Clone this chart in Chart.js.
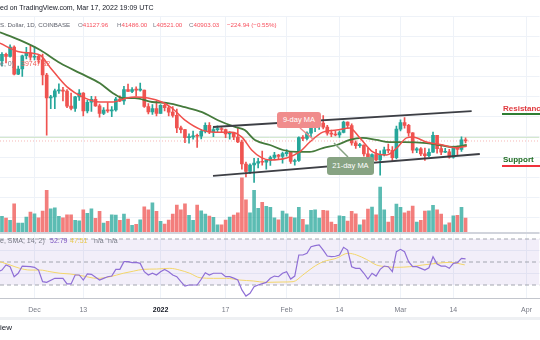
<!DOCTYPE html>
<html>
<head>
<meta charset="utf-8">
<script src="https://cdn.jsdelivr.net/npm/chart.js@4.4.1/dist/chart.umd.min.js"></script>
<style>
  html, body { margin: 0; padding: 0; background: #fff; }
  body { width: 540px; height: 340px; overflow: hidden; position: relative; font-family: "Liberation Sans", Arial, sans-serif; }
  #myChart { position: absolute; left: 0; top: 0; }
  .txt { position: absolute; white-space: nowrap; font-size: 7px; line-height: 10px; }
  .row2 { font-size: 6.2px; }
  .red { color: #f7525f; }
  .grey { color: #787b86; }
  .box { position: absolute; color: #fff; font-size: 7.5px; text-align: center; border-radius: 3px; white-space: nowrap; }
  .lvl { position: absolute; font-size: 8px; font-weight: bold; line-height: 10px; white-space: nowrap; }
  .bar { position: absolute; height: 2px; }
</style>
</head>
<body>
<canvas id="myChart" width="540" height="320"></canvas>
<svg width="540" height="340" style="position:absolute;left:0;top:0">
  <line x1="300" y1="128" x2="314" y2="140" stroke="#f08c8c" stroke-width="1.5"/>
  <line x1="334" y1="143" x2="348" y2="157" stroke="#87a383" stroke-width="1.5"/>
</svg>

<div class="txt" style="left:0;top:3px;color:#131722">ed on TradingView.com, Mar 17, 2022 19:09 UTC</div>
<div class="txt row2" style="left:0;top:20px;color:#5d606b">S. Dollar, 1D, COINBASE</div>
<div class="txt row2" style="left:78px;top:20px"><span class="grey">O</span><span class="red">41127.96</span></div>
<div class="txt row2" style="left:117px;top:20px"><span class="grey">H</span><span class="red">41486.00</span></div>
<div class="txt row2" style="left:153px;top:20px"><span class="grey">L</span><span class="red">40521.00</span></div>
<div class="txt row2" style="left:189px;top:20px"><span class="grey">C</span><span class="red">40903.03</span></div>
<div class="txt row2 red" style="left:227px;top:20px">−224.94 (−0.55%)</div>
<div class="txt grey" style="left:0;top:59px">e, 0)</div>
<div class="txt" style="left:21px;top:59px;color:#f0605a">39747.32</div>

<div class="box" style="left:277px;top:112px;width:44px;height:16px;line-height:16px;background:#f08c8c">9-day MA</div>
<div class="box" style="left:327px;top:157px;width:47px;height:18px;line-height:18px;background:#87a383">21-day MA</div>

<div class="lvl" style="left:503px;top:104px;color:#e0393e">Resistance</div>
<div class="bar" style="left:502px;top:113px;width:38px;background:#2e7d32"></div>
<div class="lvl" style="left:503px;top:155px;color:#1e6b22">Support</div>
<div class="bar" style="left:502px;top:165px;width:38px;background:#f0323c"></div>

<div class="txt grey" style="left:0;top:236px">e, SMA, 14, 2)</div>
<div class="txt" style="left:50px;top:236px;color:#7e57c2">52.79</div>
<div class="txt" style="left:70px;top:236px;color:#e8c84a">47.51</div>
<div class="txt grey" style="left:94px;top:236px">n/a</div>
<div class="txt grey" style="left:108px;top:236px">n/a</div>

<div style="position:absolute;left:0;top:317px;width:540px;height:3px;background:#eef0f3"></div>
<div class="txt" style="left:0;top:323px;font-size:8px;color:#131722">iew</div>

<script>
// x = days since Nov 22 2021, one candle per day
const viewStart = 0.52;
const viewEnd = 133.2;
const tickDays = [9, 21, 40, 56, 71, 84, 99, 112, 130];
const tickLabels = ["Dec", "13", "2022", "17", "Feb", "14", "Mar", "14", "Apr"];

const opens = [58700, 56300, 57550, 57150, 58950, 53750, 54750, 57300, 57800, 57000,
  57200, 56500, 53600, 49200, 49400, 50550, 50600, 50500, 47600, 47150,
  49400, 50100, 46700, 48350, 48900, 47650, 46200, 46850, 46700, 46900,
  48950, 48600, 50800, 50430, 50800, 50680, 50700, 47540, 46470, 47130,
  46200, 47740, 47300, 46450, 45830, 43430, 43080, 41550, 41680, 41860,
  41820, 42740, 43920, 42590, 43100, 43180, 43110, 42250, 42370, 41670,
  40700, 36470, 35070, 36280, 36660, 36960, 36810, 37160, 37720, 38170,
  37920, 38480, 38740, 36950, 37150, 41570, 41410, 42410, 43840, 44040,
  44350, 43570, 42400, 42200, 42060, 42540, 44560, 43880, 40540, 40000,
  40120, 38420, 37070, 38280, 37270, 38330, 39220, 39110, 37700, 43190,
  44420, 43920, 42460, 39140, 39400, 38420, 38060, 38740, 41980, 39440,
  38730, 38810, 37780, 39670, 39280, 41128];
const highs = [59300, 57900, 57800, 59400, 59200, 55300, 57400, 58900, 59200, 59100,
  57400, 57600, 53900, 49700, 50900, 51900, 51200, 50800, 50100, 49500,
  50800, 50200, 48700, 49500, 49450, 48000, 47350, 48300, 47500, 49300,
  49600, 51400, 51850, 51150, 51300, 52050, 50700, 48100, 47900, 48550,
  47900, 47980, 47550, 47500, 47050, 43750, 43150, 42300, 42800, 42250,
  43100, 44400, 44450, 43450, 43800, 43500, 43200, 42700, 42550, 43500,
  41100, 36850, 36500, 37550, 37550, 38950, 37250, 38000, 38700, 38350,
  38750, 39250, 38850, 37400, 41700, 41950, 42650, 44500, 45500, 44800,
  45800, 43900, 43000, 42750, 42850, 44750, 44600, 44200, 40950, 40450,
  40150, 39500, 38450, 39300, 39000, 39750, 40300, 39850, 43750, 44950,
  45400, 44100, 42500, 39650, 39650, 39550, 39400, 42600, 42000, 40250,
  39500, 39300, 39900, 39900, 41700, 41486];
const lows = [55600, 55300, 55900, 57000, 53600, 53650, 53300, 56700, 56450, 56500,
  55800, 51700, 42000, 47100, 47100, 50050, 48600, 47300, 46900, 46600,
  48700, 45700, 46300, 46600, 47550, 45500, 45950, 46400, 45600, 46650,
  48450, 47950, 50450, 50200, 49500, 50500, 47350, 46100, 46000, 45700,
  46200, 46700, 45700, 45500, 42500, 42450, 40600, 40500, 41250, 39650,
  41300, 42450, 42300, 41750, 42600, 42600, 41550, 41250, 41150, 40600,
  35500, 34000, 34600, 32950, 35700, 36250, 35500, 36200, 37300, 37400,
  36650, 38000, 36600, 36250, 36950, 40950, 41100, 41700, 42700, 43150,
  43200, 42000, 41750, 41900, 41600, 42450, 43300, 40100, 39450, 39650,
  38000, 36800, 36400, 37100, 34320, 38050, 38600, 37000, 37450, 42850,
  43350, 41850, 38600, 38650, 38100, 37150, 37900, 38700, 38550, 38250,
  38650, 37600, 37600, 38150, 38900, 40521];
const closes = [56300, 57550, 57150, 58950, 53750, 54750, 57300, 57800, 57000, 57200,
  56500, 53600, 49200, 49400, 50550, 50600, 50500, 47600, 47150, 49400,
  50100, 46700, 48350, 48900, 47650, 46200, 46850, 46700, 46900, 48950,
  48600, 50800, 50430, 50800, 50680, 50700, 47540, 46470, 47130, 46200,
  47740, 47300, 46450, 45830, 43430, 43080, 41550, 41680, 41860, 41820,
  42740, 43920, 42590, 43100, 43180, 43110, 42250, 42370, 41670, 40700,
  36470, 35070, 36280, 36660, 36960, 36810, 37160, 37720, 38170, 37920,
  38480, 38740, 36950, 37150, 41570, 41410, 42410, 43840, 44040, 44350,
  43570, 42400, 42200, 42060, 42540, 44560, 43880, 40540, 40000, 40120,
  38420, 37070, 38280, 37270, 38330, 39220, 39110, 37700, 43190, 44420,
  43920, 42460, 39140, 39400, 38420, 38060, 38740, 41980, 39440, 38730,
  38810, 37780, 39670, 39280, 41120, 40903];
const volumes = [13000, 12600, 11200, 9400, 22600, 7200, 7200, 12000, 16000, 14600,
  11400, 16800, 33400, 18600, 19400, 12600, 11400, 13800, 13800, 9400,
  9000, 17800, 15000, 18600, 11000, 16600, 7200, 8600, 13800, 13600,
  9400, 14400, 10400, 5400, 6200, 9800, 20200, 17800, 23400, 16600,
  8600, 6400, 9600, 14400, 21600, 17800, 22600, 13400, 9400, 21600,
  17000, 14400, 12800, 11800, 5800, 5800, 9600, 12000, 13600, 15400,
  43400, 25800, 15400, 33400, 19000, 23800, 20600, 19800, 11400, 9800,
  16800, 14600, 12000, 11400, 19800, 10200, 5800, 17400, 17800, 11200,
  17400, 17000, 8000, 6200, 13000, 12600, 8800, 16600, 14600, 5800,
  9800, 18400, 20000, 13800, 36000, 17800, 8000, 12600, 22400, 19800,
  15400, 16800, 20800, 8000, 9400, 16800, 17000, 21400, 17800, 14400,
  5800, 7400, 13000, 13400, 19800, 11200];

// moving averages
const ma9Days = [0.5, 5.5, 10.4, 12.8, 17, 20.9, 25.1, 28.3, 31.7, 33.7, 36.9, 40.3, 42.8, 46, 50.2, 53.3,
  57.5, 60, 62.4, 64.9, 66.9, 71, 74.2, 76.7, 79.9, 83.3, 86.5, 89, 92.2, 95.6, 98.1, 100.5, 102,
  105.4, 109.4, 112.8, 115.3];
const ma9Values = [59700, 58000, 57400, 55100, 51300, 49350, 48400, 48400, 49150, 49350, 49150, 48400, 47250, 44900, 43000, 42600,
  42600, 41650, 39170, 37640, 37250, 37640, 38800, 40700, 42600, 43000, 43400, 41500, 38800, 38200, 39550, 41500, 41650,
  40700, 40130, 39600, 39900];
const ma21Days = [0.5, 5.4, 10.4, 15.3, 20.2, 25.1, 28.3, 30.7, 33.7, 37.9, 41.8, 46, 50.2, 54.1, 58.3, 60.7,
  63.2, 66.9, 70.1, 73.5, 76.7, 79.9, 83.3, 86.5, 89.7, 93.1, 96.3, 100, 105.4, 108.6, 111.8, 115.3];
const ma21Values = [61800, 60300, 58400, 55900, 53950, 52000, 50100, 49150, 49150, 48400, 48200, 47400, 46450, 44900, 43600, 43000,
  41100, 40130, 39170, 38800, 38800, 39550, 40130, 41100, 41500, 41100, 40700, 40700, 40500, 40130, 39750, 40130];

// channel drawn on the chart
const upperDays = [52.9, 116.5];
const upperValues = [43590, 46660];
const lowerDays = [52.9, 118.5];
const lowerValues = [34180, 38400];
const priceLines = [41600, 40903];

// RSI pane
const rsiDays = [0, 1, 2, 3, 4, 5, 6, 8, 9, 10, 11, 12, 14, 16, 17, 18, 19, 20, 21, 22, 23, 25, 26, 27, 28, 29,
  30, 31, 32, 33, 34, 35, 36, 37, 38, 39, 40, 41, 42, 43, 44, 45, 46, 47, 49, 50, 51, 52, 53, 55, 56, 57, 58,
  59, 60, 61, 62, 63, 64, 66, 67, 68, 69, 70, 71, 72, 73, 74, 75, 76, 77, 78, 79, 80, 81, 82, 83, 84, 85, 86,
  87, 88, 89, 90, 91, 92, 93, 94, 95, 96, 97, 98, 99, 100, 101, 102, 103, 104, 105, 106, 107, 108, 109, 110,
  111, 112, 113, 114, 115];
const rsiValues = [41.6, 43, 47.4, 45.9, 37.2, 40.2, 46.5, 45.9, 45.4, 43, 32.9, 32.3, 35.8, 35.8, 30.9, 30.9, 38.7, 38.7, 34.3, 39.6, 39.3, 34.3, 35.8, 37.2, 37.8, 43.6,
  43.6, 50.3, 50.3, 49.4, 49.7, 48.8, 41.6, 38.7, 40.2, 38.7, 41.6, 43.6, 41.6, 38.7, 37.2, 32.9, 29.1, 30, 30, 35, 40.7, 38.7, 40.2, 40.2, 37.2, 37.2, 36,
  34.3, 25.7, 20.4, 22.8, 28.5, 30, 32.3, 35.8, 37.8, 37.2, 40.2, 41.6, 35.2, 37.8, 56.1, 56.1, 57.6, 63.3, 64.2, 64.8, 60.4, 55.2, 54.6, 55, 56.1, 62.8, 60.4,
  45.9, 44.5, 44.5, 40.2, 35.2, 40.2, 37.8, 43.6, 46.5, 45.9, 41.6, 59, 61, 59, 50.3, 45.9, 45.9, 44.5, 43, 45, 54.6, 48.3, 46.5, 46.5,
  44.5, 48.8, 49.4, 53.2, 52.79];
const rsiMaDays = [0.5, 3, 5.4, 7.9, 10.4, 12.8, 15.3, 17.7, 21, 24.3, 27.6, 30.8, 33.3, 35.7, 39, 42.3, 44.7, 47.2, 49.7, 53,
  56.2, 59.5, 62.8, 66, 70.1, 72.6, 75, 77.5, 80, 83.2, 86.1, 88.2, 90.6, 93.1, 95.5, 98, 101.3, 104.5, 107.8, 111.1, 114.8];
const rsiMaValues = [50.3, 47.4, 44.5, 43, 43, 41.6, 40.2, 39.6, 37.8, 35.8, 37.2, 40.2, 42, 43.6, 43.9, 44.5, 43, 40.2, 36.3, 35.8,
  35.8, 34.3, 33.5, 32.3, 32.6, 32.9, 38.7, 45.4, 50.3, 53.2, 57.6, 56.1, 52.3, 47.4, 45.9, 45.4, 45.9, 47.4, 48.8, 49.7, 47.51];
const rsiLevels = [70, 50, 30];

const upColor = "#26a69a";
const downColor = "#ef5350";
const gridColor = "#eef2f8";

Chart.defaults.font.family = '"Liberation Sans", Arial, sans-serif';

const points = (xs, ys) => xs.map((x, i) => ({ x, y: ys[i] }));
const candleColor = (ctx) => (closes[ctx.dataIndex] >= opens[ctx.dataIndex] ? upColor : downColor);
const volumeColor = (ctx) =>
  closes[ctx.dataIndex] >= opens[ctx.dataIndex] ? "rgba(38,166,154,0.75)" : "rgba(239,83,80,0.75)";

const flatLine = (axis, value, color, dash, extra) => ({
  type: "line",
  yAxisID: axis,
  data: [{ x: viewStart, y: value }, { x: viewEnd, y: value }],
  borderColor: color,
  borderWidth: 1,
  borderDash: dash,
  pointRadius: 0,
  fill: false,
  ...extra,
});

const datasets = [
  {
    type: "bar",
    yAxisID: "vol",
    data: points(opens.map((o, i) => i), volumes),
    backgroundColor: volumeColor,
    barThickness: 3,
    grouped: false,
    order: 20,
  },
  flatLine("rsi", rsiLevels[0], "#a3a6af", [4, 3], { fill: { value: rsiLevels[2] }, backgroundColor: "rgba(126,87,194,0.1)", order: 19 }),
  flatLine("rsi", rsiLevels[1], "#a3a6af", [4, 3], { order: 18 }),
  flatLine("rsi", rsiLevels[2], "#a3a6af", [4, 3], { order: 18 }),
  flatLine("y", priceLines[0], "#cfe5c8", [], { order: 17 }),
  flatLine("y", priceLines[1], "#f6b7b5", [1, 2], { order: 17 }),
  {
    type: "bar",
    yAxisID: "y",
    data: highs.map((h, i) => ({ x: i, y: [lows[i], h] })),
    backgroundColor: candleColor,
    barThickness: 1,
    grouped: false,
    order: 12,
  },
  {
    type: "bar",
    yAxisID: "y",
    data: opens.map((o, i) => ({ x: i, y: [o, closes[i]] })),
    backgroundColor: candleColor,
    barThickness: 3,
    minBarLength: 1,
    grouped: false,
    order: 11,
  },
  {
    type: "line",
    yAxisID: "y",
    data: points(ma21Days, ma21Values),
    borderColor: "#457a3c",
    borderWidth: 1.8,
    pointRadius: 0,
    cubicInterpolationMode: "monotone",
    order: 6,
  },
  {
    type: "line",
    yAxisID: "y",
    data: points(ma9Days, ma9Values),
    borderColor: "#f0504c",
    borderWidth: 1.5,
    pointRadius: 0,
    cubicInterpolationMode: "monotone",
    order: 5,
  },
  {
    type: "line",
    yAxisID: "y",
    data: points(upperDays, upperValues),
    borderColor: "#3d3f45",
    borderWidth: 1.8,
    pointRadius: 0,
    order: 4,
  },
  {
    type: "line",
    yAxisID: "y",
    data: points(lowerDays, lowerValues),
    borderColor: "#3d3f45",
    borderWidth: 1.8,
    pointRadius: 0,
    order: 4,
  },
  {
    type: "line",
    yAxisID: "rsi",
    data: points(rsiMaDays, rsiMaValues),
    borderColor: "#f3d66a",
    borderWidth: 1,
    pointRadius: 0,
    cubicInterpolationMode: "monotone",
    order: 3,
  },
  {
    type: "line",
    yAxisID: "rsi",
    data: points(rsiDays, rsiValues),
    borderColor: "#8f6fd6",
    borderWidth: 1.2,
    pointRadius: 0,
    order: 2,
  },
];

//line between the price pane and the RSI pane
const paneLines = {
  id: "paneLines",
  afterDatasetsDraw(chart) {
    const { ctx, chartArea, scales } = chart;
    const y = Math.round(scales.vol.getPixelForValue(0)) + 1;
    ctx.save();
    ctx.strokeStyle = "#d1d4dc";
    ctx.lineWidth = 2;
    ctx.beginPath();
    ctx.moveTo(chartArea.left, y);
    ctx.lineTo(chartArea.right, y);
    ctx.stroke();
    ctx.restore();
  },
};

const config = {
  type: "bar",
  data: { datasets },
  options: {
    responsive: false,
    animation: false,
    events: [],
    layout: { padding: { top: 16, left: 0, right: 0, bottom: 0 } },
    plugins: { legend: { display: false }, tooltip: { enabled: false } },
    scales: {
      x: {
        type: "linear",
        min: viewStart,
        max: viewEnd,
        offset: false,
        grid: { color: gridColor, drawTicks: false, offset: false },
        border: { display: true, color: "#c3c6cd" },
        afterBuildTicks: (axis) => {
          axis.ticks = tickDays.map((v) => ({ value: v }));
        },
        afterFit: (axis) => {
          axis.height = 22;
        },
        ticks: {
          autoSkip: false,
          maxRotation: 0,
          padding: 8,
          color: (ctx) => (ctx.tick && ctx.tick.value === 40 ? "#131722" : "#787b86"),
          font: (ctx) => ({ size: 7, weight: ctx.tick && ctx.tick.value === 40 ? "bold" : "normal" }),
          callback: (value) => tickLabels[tickDays.indexOf(value)],
        },
      },
      y: {
        position: "left",
        min: 10709,
        max: 64938,
        ticks: { display: false, stepSize: 4000 },
        grid: { drawTicks: false, color: (ctx) => (ctx.tick.value >= 24000 ? gridColor : "rgba(0,0,0,0)") },
        border: { display: false },
        afterFit: (axis) => {
          axis.width = 0;
        },
      },
      rsi: {
        position: "left",
        min: 18.7,
        max: 263.9,
        ticks: { display: false, stepSize: 20 },
        grid: { drawTicks: false, color: (ctx) => ([20, 40, 60].includes(ctx.tick.value) ? gridColor : "rgba(0,0,0,0)") },
        border: { display: false },
        afterFit: (axis) => {
          axis.width = 0;
        },
      },
      vol: {
        display: false,
        min: -52800,
        max: 172800,
      },
    },
  },
  plugins: [paneLines],
};

let myChart = new Chart(document.getElementById("myChart"), config);
</script>
</body>
</html>
